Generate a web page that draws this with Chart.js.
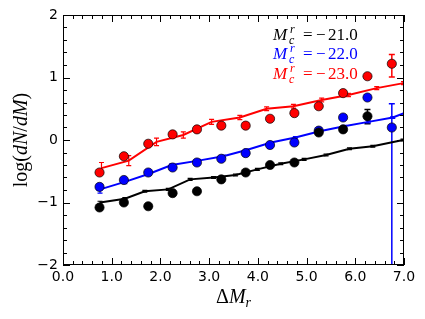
<!DOCTYPE html>
<html>
<head>
<meta charset="utf-8">
<script src="https://cdn.jsdelivr.net/npm/chart.js@4/dist/chart.umd.min.js"></script>
<style>
  html, body { margin: 0; padding: 0; background: #fff; }
  canvas { display: block; }
</style>
</head>
<body>
<canvas id="lf" width="425" height="319"></canvas>
<script>
// bin centres of the measured points
const binX = [0.75, 1.25, 1.75, 2.25, 2.75, 3.25, 3.75, 4.25, 4.75, 5.25, 5.75, 6.25, 6.75];

// measured log(dN/dM), one array per M_c^r
const blackDots = [-1.08, -1.00, -1.06, -0.85, -0.82, -0.63, -0.52, -0.40, -0.36, 0.12, 0.17, 0.38, null];
const blueDots  = [-0.75, -0.64, -0.52, -0.44, -0.36, -0.30, -0.21, -0.08, -0.04, 0.15, 0.36, 0.68, 0.20];
const redDots   = [-0.52, -0.26, -0.06, 0.09, 0.17, 0.23, 0.23, 0.34, 0.43, 0.54, 0.75, 1.02, 1.22];

// errors of the points (upper / lower)
const blackDotErrUp = [0, 0, 0, 0, 0, 0, 0, 0, 0, 0, 0, 0.11, 0];
const blackDotErrDn = [0, 0, 0, 0, 0, 0, 0, 0, 0, 0, 0, 0.12, 0];
const blueDotErrUp  = [0, 0, 0, 0, 0, 0, 0, 0, 0, 0, 0, 0, 0.38];
const blueDotErrDn  = [0, 0, 0, 0, 0, 0, 0, 0, 0, 0, 0, 0, 3.0];
const redDotErrUp   = [0, 0, 0, 0, 0, 0, 0, 0, 0, 0, 0, 0, 0.15];
const redDotErrDn   = [0, 0, 0, 0, 0, 0, 0, 0, 0, 0, 0, 0, 0.21];

// model curves
const blackLineX = [0.76, 1.27, 1.68, 2.16, 2.61, 3.09, 3.54, 3.99, 4.47, 4.95, 5.40, 5.88, 6.36, 6.98];
const blackLineY = [-1.00, -0.94, -0.82, -0.79, -0.63, -0.60, -0.56, -0.47, -0.38, -0.31, -0.24, -0.14, -0.10, 0.00];
const blackLineErr = [0.02, 0.02, 0.015, 0.015, 0.015, 0.015, 0.015, 0.015, 0.015, 0.015, 0.015, 0.015, 0.015, 0.015];

const blueLineX = [0.76, 1.27, 1.77, 2.23, 2.78, 3.29, 3.77, 4.27, 4.77, 5.27, 5.77, 6.27, 6.77, 7.00];
const blueLineY = [-0.79, -0.67, -0.54, -0.40, -0.33, -0.26, -0.16, -0.04, 0.04, 0.14, 0.22, 0.29, 0.36, 0.43];
const blueLineErr = [0.06, 0.03, 0.025, 0.02, 0.02, 0.02, 0.015, 0.015, 0.015, 0.015, 0.015, 0.015, 0.015, 0];

const redLineX = [0.79, 1.35, 1.92, 2.47, 3.05, 3.63, 4.18, 4.73, 5.31, 5.86, 6.44, 6.99];
const redLineY = [-0.45, -0.33, -0.03, 0.08, 0.29, 0.36, 0.50, 0.54, 0.64, 0.72, 0.83, 0.91];
const redLineErr = [0.09, 0.08, 0.06, 0.05, 0.04, 0.035, 0.03, 0.03, 0.03, 0.025, 0.025, 0.025];

const xTicks = [0, 1, 2, 3, 4, 5, 6, 7];
const yTicks = [-2, -1, 0, 1, 2];

const legendLabels = ['\u221221.0', '\u221222.0', '\u221223.0'];
const colors = ['#000000', '#0000ff', '#ff0000'];

function pts(xs, ys, up, dn) {
    return xs.map((x, i) => ({ x: x, y: ys[i], eu: up[i], ed: dn[i] }))
             .filter(p => p.y !== null);
}

function lineSet(xs, ys, err, color) {
    return {
        data: pts(xs, ys, err, err),
        showLine: true,
        borderColor: color,
        borderWidth: 2,
        pointRadius: 0,
        fill: false,
        tension: 0,
        order: 2,
        errColor: color,
        errWidth: 1.2,
        capW: 2.5
    };
}

function dotSet(ys, up, dn, color) {
    return {
        data: pts(binX, ys, up, dn),
        showLine: false,
        backgroundColor: color,
        borderColor: '#000',
        borderWidth: 0.7,
        pointRadius: 4.6,
        pointHoverRadius: 4.6,
        order: 1,
        errColor: color,
        errWidth: 1.5,
        capW: 3
    };
}

// draws text pieces with italic / sub / sup, returns width
function drawRuns(ctx, parts, x, y, size, onlyMeasure) {
    let cx = x;
    parts.forEach(p => {
        const s = size * (p.s || 1);
        ctx.font = (p.i ? 'italic ' : '') + s + 'px "Liberation Serif"';
        if (!onlyMeasure) ctx.fillText(p.t, cx, y + (p.dy || 0));
        cx += ctx.measureText(p.t).width + (p.gap || 0);
    });
    return cx - x;
}

const decor = {
    id: 'decor',
    beforeDatasetsDraw(chart) {
        // error bars
        const ctx = chart.ctx, a = chart.chartArea;
        const xs = chart.scales.x, ys = chart.scales.y;
        ctx.save();
        ctx.beginPath();
        ctx.rect(a.left, a.top, a.right - a.left, a.bottom - a.top);
        ctx.clip();
        chart.data.datasets.forEach(ds => {
            ctx.strokeStyle = ds.errColor;
            ctx.lineWidth = ds.errWidth;
            const c = ds.capW;
            ds.data.forEach(p => {
                if (!p.eu && !p.ed) return;
                const px = xs.getPixelForValue(p.x);
                const y1 = ys.getPixelForValue(p.y + p.eu);
                const y2 = ys.getPixelForValue(p.y - p.ed);
                ctx.beginPath();
                ctx.moveTo(px, y1); ctx.lineTo(px, y2);
                ctx.moveTo(px - c, y1); ctx.lineTo(px + c, y1);
                ctx.moveTo(px - c, y2); ctx.lineTo(px + c, y2);
                ctx.stroke();
            });
        });
        ctx.restore();
    },
    afterDraw(chart) {
        const ctx = chart.ctx, a = chart.chartArea;
        const xs = chart.scales.x, ys = chart.scales.y;
        ctx.save();
        ctx.strokeStyle = '#000';
        ctx.lineWidth = 1;
        ctx.strokeRect(a.left + 0.5, a.top + 0.5, a.right - a.left - 1, a.bottom - a.top - 1);

        // inward ticks on all sides
        ctx.beginPath();
        for (let k = 0; k <= 35; k++) {
            const v = k * 0.2;
            const len = k % 5 === 0 ? 7 : 4;
            const px = Math.round(xs.getPixelForValue(v)) + 0.5;
            ctx.moveTo(px, a.bottom); ctx.lineTo(px, a.bottom - len);
            ctx.moveTo(px, a.top); ctx.lineTo(px, a.top + len);
        }
        for (let k = 0; k <= 20; k++) {
            const v = -2 + k * 0.2;
            const len = k % 5 === 0 ? 7 : 4;
            const py = Math.round(ys.getPixelForValue(v)) + 0.5;
            ctx.moveTo(a.left, py); ctx.lineTo(a.left + len, py);
            ctx.moveTo(a.right, py); ctx.lineTo(a.right - len, py);
        }
        ctx.stroke();

        ctx.fillStyle = '#000';
        ctx.textBaseline = 'alphabetic';
        ctx.textAlign = 'left';

        // x axis title
        const xl = [{ t: '\u0394' }, { t: 'M', i: true }, { t: 'r', i: true, s: 0.7, dy: 4 }];
        const wx = drawRuns(ctx, xl, 0, 0, 20, true);
        drawRuns(ctx, xl, (a.left + a.right) / 2 - wx / 2, 303, 20);

        // y axis title
        const yl = [{ t: 'log(' }, { t: 'dN', i: true }, { t: '/' }, { t: 'dM', i: true }, { t: ')' }];
        ctx.save();
        ctx.translate(27, (a.top + a.bottom) / 2);
        ctx.rotate(-Math.PI / 2);
        const wy = drawRuns(ctx, yl, 0, 0, 20, true);
        drawRuns(ctx, yl, -wy / 2, 0, 20);
        ctx.restore();

        // legend text
        legendLabels.forEach((lab, i) => {
            const bx = 273, by = 39.5 + i * 19.5;
            ctx.fillStyle = colors[i];
            ctx.font = 'italic 17px "Liberation Serif"';
            ctx.fillText('M', bx, by);
            ctx.font = 'italic 12px "Liberation Serif"';
            ctx.fillText('c', bx + 16, by + 4);
            ctx.fillText('r', bx + 17, by - 7);
            ctx.font = '17px "Liberation Serif"';
            ctx.fillText('=', bx + 30, by);
            ctx.fillText('\u2212', bx + 43, by);
            ctx.fillText(lab.slice(1), bx + 55, by);
        });
        ctx.restore();
    }
};

const tickFont = { family: 'DejaVu Sans', size: 14 };

new Chart(document.getElementById('lf'), {
    type: 'scatter',
    data: {
        datasets: [
            dotSet(blackDots, blackDotErrUp, blackDotErrDn, colors[0]),
            dotSet(blueDots, blueDotErrUp, blueDotErrDn, colors[1]),
            dotSet(redDots, redDotErrUp, redDotErrDn, colors[2]),
            lineSet(blackLineX, blackLineY, blackLineErr, colors[0]),
            lineSet(blueLineX, blueLineY, blueLineErr, colors[1]),
            lineSet(redLineX, redLineY, redLineErr, colors[2])
        ]
    },
    options: {
        responsive: false,
        animation: false,
        devicePixelRatio: 1,
        layout: { padding: { top: 15, right: 21, left: 0, bottom: 0 } },
        plugins: {
            legend: { display: false },
            tooltip: { enabled: false }
        },
        scales: {
            x: {
                type: 'linear',
                min: 0,
                max: 7,
                afterBuildTicks: s => { s.ticks = xTicks.map(v => ({ value: v })); },
                afterFit: s => { s.height = 54; },
                grid: { display: false, drawTicks: false },
                border: { display: false },
                ticks: {
                    color: '#000',
                    font: tickFont,
                    padding: 4,
                    maxRotation: 0,
                    autoSkip: false,
                    callback: v => v.toFixed(1)
                }
            },
            y: {
                type: 'linear',
                min: -2,
                max: 2,
                afterBuildTicks: s => { s.ticks = yTicks.map(v => ({ value: v })); },
                afterFit: s => { s.width = 63; },
                grid: { display: false, drawTicks: false },
                border: { display: false },
                ticks: {
                    color: '#000',
                    font: tickFont,
                    padding: 5,
                    autoSkip: false,
                    callback: v => (v < 0 ? '\u2212' + Math.abs(v) : String(v))
                }
            }
        }
    },
    plugins: [decor]
});
</script>
</body>
</html>
